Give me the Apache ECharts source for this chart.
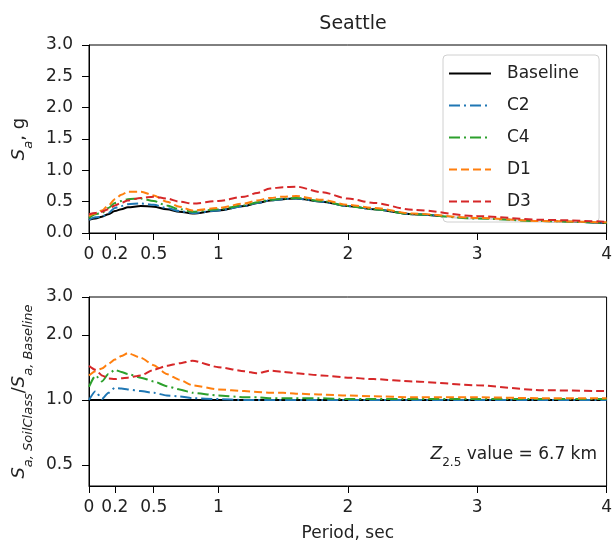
<!DOCTYPE html>
<html>
<head>
<meta charset="utf-8">
<script src="https://cdn.jsdelivr.net/npm/echarts@6/dist/echarts.min.js"></script>
<style>html,body{margin:0;padding:0;background:#fff;}#c{width:615px;height:546px;}</style>
</head>
<body>
<div id="c"></div>
<script>
// ---- data ----
const periods   = [0, 0.05, 0.1, 0.15, 0.2, 0.25, 0.3, 0.4, 0.5, 0.6, 0.7, 0.8, 1.0, 1.2, 1.3, 1.4, 1.5, 1.6, 1.8, 2.0, 2.2, 2.5, 3.0, 3.5, 4.0];
const xTicks    = [0, 0.2, 0.5, 1, 2, 3, 4];
const ratioTicks = [0.5, 1.0, 2.0, 3.0];
const seriesNames = ['Baseline', 'C2', 'C4', 'D1', 'D3'];

// Sa (g)
const saBaseline = [0.21, 0.23, 0.26, 0.30, 0.35, 0.38, 0.41, 0.43, 0.42, 0.38, 0.34, 0.31, 0.36, 0.43, 0.48, 0.52, 0.54, 0.55, 0.50, 0.43, 0.38, 0.30, 0.23, 0.19, 0.16];
const saC2       = [0.21, 0.25, 0.26, 0.32, 0.40, 0.43, 0.46, 0.47, 0.45, 0.40, 0.35, 0.32, 0.36, 0.43, 0.48, 0.52, 0.54, 0.55, 0.50, 0.43, 0.38, 0.30, 0.23, 0.19, 0.16];
const saC4       = [0.24, 0.30, 0.32, 0.40, 0.48, 0.51, 0.54, 0.55, 0.51, 0.44, 0.38, 0.34, 0.38, 0.44, 0.49, 0.53, 0.55, 0.56, 0.51, 0.43, 0.38, 0.30, 0.23, 0.19, 0.16];
const saD1       = [0.27, 0.31, 0.36, 0.44, 0.54, 0.61, 0.66, 0.66, 0.60, 0.50, 0.42, 0.36, 0.40, 0.47, 0.52, 0.56, 0.58, 0.59, 0.53, 0.45, 0.40, 0.31, 0.24, 0.19, 0.17];
const saD3       = [0.30, 0.32, 0.34, 0.38, 0.44, 0.48, 0.52, 0.56, 0.58, 0.55, 0.50, 0.47, 0.51, 0.58, 0.64, 0.71, 0.73, 0.74, 0.65, 0.55, 0.48, 0.37, 0.27, 0.21, 0.18];

// Sa,SoilClass / Sa,Baseline
const rBaseline = [1, 1, 1, 1, 1, 1, 1, 1, 1, 1, 1, 1, 1, 1, 1, 1, 1, 1, 1, 1, 1, 1, 1, 1, 1];
const rC2       = [1.00, 1.10, 1.01, 1.08, 1.14, 1.13, 1.12, 1.10, 1.08, 1.05, 1.04, 1.02, 1.01, 1.00, 1.00, 1.00, 1.00, 1.00, 1.00, 1.00, 1.00, 1.00, 1.00, 1.00, 1.00];
const rC4       = [1.15, 1.30, 1.22, 1.32, 1.38, 1.35, 1.32, 1.27, 1.22, 1.16, 1.12, 1.08, 1.05, 1.03, 1.03, 1.02, 1.02, 1.02, 1.02, 1.01, 1.01, 1.01, 1.01, 1.01, 1.01];
const rD1       = [1.30, 1.36, 1.40, 1.47, 1.54, 1.60, 1.65, 1.57, 1.45, 1.32, 1.24, 1.17, 1.12, 1.10, 1.09, 1.08, 1.08, 1.07, 1.06, 1.05, 1.04, 1.03, 1.03, 1.02, 1.02];
const rD3       = [1.44, 1.38, 1.30, 1.26, 1.25, 1.26, 1.27, 1.30, 1.38, 1.44, 1.48, 1.52, 1.42, 1.36, 1.33, 1.37, 1.35, 1.33, 1.30, 1.27, 1.25, 1.22, 1.17, 1.11, 1.10];

// ---- styling ----
const colors = ['#000000', '#1f77b4', '#2ca02c', '#ff7f0e', '#d62728'];
const dashes = ['solid', [11, 4, 2, 4], [11, 4, 2, 4], [8, 4], [8, 4]];
const FONT = 'DejaVu Sans';
const saSets = [saBaseline, saC2, saC4, saD1, saD3];
const rSets  = [rBaseline, rC2, rC4, rD1, rD3];

function pairs(ys) { return periods.map((p, i) => [p, ys[i]]); }

const series = [];
seriesNames.forEach((n, k) => {
  series.push({
    name: n, type: 'line', xAxisIndex: 0, yAxisIndex: 0,
    data: pairs(saSets[k]), symbol: 'none', smooth: 0.3, smoothMonotone: 'x',
    lineStyle: { color: colors[k], width: 2, type: dashes[k] },
    itemStyle: { color: colors[k] }, z: 2 + k
  });
});
seriesNames.forEach((n, k) => {
  series.push({
    name: n, type: 'line', xAxisIndex: 1, yAxisIndex: 1,
    data: pairs(rSets[k]), symbol: 'none', smooth: 0.2, smoothMonotone: 'x',
    lineStyle: { color: colors[k], width: 2, type: dashes[k] },
    itemStyle: { color: colors[k] }, z: 2 + k
  });
});

const axisLine = { show: true, onZero: false, lineStyle: { color: '#000', width: 1 } };
const tick = { show: true, inside: false, length: 7, lineStyle: { color: '#000' } };
const lbl = { color: '#222', fontFamily: FONT, fontSize: 17 };

function xAxis(gi, withName) {
  return {
    type: 'value', gridIndex: gi, min: 0, max: 4,
    axisLine: axisLine, splitLine: { show: false },
    axisTick: Object.assign({}, tick, { customValues: xTicks }),
    axisLabel: Object.assign({}, lbl, { margin: 13, customValues: xTicks, formatter: v => String(v), hideOverlap: false }),
    name: withName ? 'Period, sec' : '',
    nameLocation: 'middle', nameGap: 39,
    nameTextStyle: { fontFamily: FONT, fontSize: 17, color: '#222' }
  };
}

const subRich = {
  s:   { fontFamily: FONT, fontSize: 18, fontStyle: 'italic', color: '#222', lineHeight: 25, verticalAlign: 'top' },
  n:   { fontFamily: FONT, fontSize: 18, color: '#222', lineHeight: 25, verticalAlign: 'top' },
  sub: { fontFamily: FONT, fontSize: 13, fontStyle: 'italic', color: '#222', lineHeight: 14, verticalAlign: 'bottom' }
};

const option = {
  animation: false,
  backgroundColor: '#fff',
  title: {
    text: 'Seattle', left: 348, top: 10, textAlign: 'center',
    textStyle: { fontFamily: FONT, fontSize: 19, fontWeight: 'normal', color: '#222' }
  },
  legend: {
    data: seriesNames, orient: 'vertical', left: 443, top: 55,
    padding: [10, 20, 12, 5], itemWidth: 42, itemHeight: 14, itemGap: 15,
    backgroundColor: 'rgba(255,255,255,0.8)', borderColor: '#d0d0d0', borderWidth: 1, borderRadius: 4,
    itemStyle: { opacity: 0 },
    textStyle: { fontFamily: FONT, fontSize: 17, color: '#222', padding: [0, 0, 0, 11] },
    selectedMode: false
  },
  grid: [
    { left: 89, right: 8, top: 45, height: 188, show: true, borderColor: '#000', borderWidth: 1, backgroundColor: 'transparent' },
    { left: 89, right: 8, top: 297, height: 189, show: true, borderColor: '#000', borderWidth: 1, backgroundColor: 'transparent' }
  ],
  xAxis: [xAxis(0, false), xAxis(1, true)],
  yAxis: [
    {
      type: 'value', gridIndex: 0, min: 0, max: 3, interval: 0.5,
      axisLine: axisLine, splitLine: { show: false }, axisTick: tick,
      axisLabel: Object.assign({}, lbl, { margin: 16, formatter: v => v.toFixed(1) }),
      name: '{s|S}{sub|a}{n|, g}', nameLocation: 'middle', nameRotate: 90, nameGap: 52,
      nameTextStyle: { rich: subRich }
    },
    {
      type: 'log', gridIndex: 1, min: 0.4, max: 3, logBase: 10,
      axisLine: axisLine, splitLine: { show: false }, minorTick: { show: false },
      axisTick: Object.assign({}, tick, { customValues: ratioTicks }),
      axisLabel: Object.assign({}, lbl, { margin: 16, customValues: ratioTicks, formatter: v => Number(v).toFixed(1) }),
      name: '{s|S}{sub|a, SoilClass}{n|/}{s|S}{sub|a, Baseline}', nameLocation: 'middle', nameRotate: 90, nameGap: 52,
      nameTextStyle: { rich: subRich }
    }
  ],
  graphic: [{
    type: 'text', right: 18, top: 446,
    style: {
      text: '{z|Z}{sub|2.5}{n| value = 6.7 km}',
      rich: {
        z: { fontFamily: FONT, fontSize: 17, fontStyle: 'italic', fill: '#222', lineHeight: 23, verticalAlign: 'top' },
        n: { fontFamily: FONT, fontSize: 17, fill: '#222', lineHeight: 23, verticalAlign: 'top' },
        sub: { fontFamily: FONT, fontSize: 12, fill: '#222', lineHeight: 13, verticalAlign: 'bottom' }
      }
    }
  }],
  series: series
};

const chart = echarts.init(document.getElementById('c'), null, { renderer: 'canvas' });
chart.setOption(option);
</script>
</body>
</html>
